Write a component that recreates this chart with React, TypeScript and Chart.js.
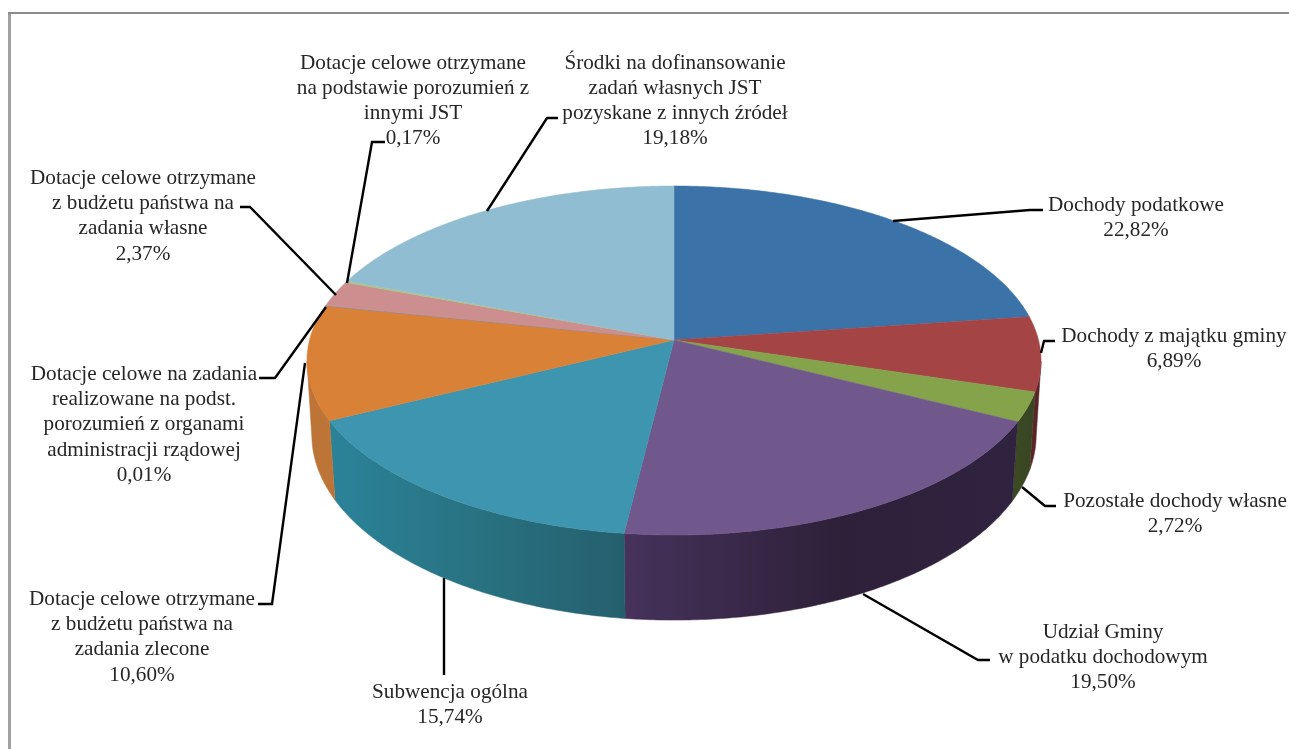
import React, { useEffect, useRef } from "react";
import { Chart, registerables } from "chart.js";

Chart.register(...registerables);

const categories = [
  "Dochody podatkowe",
  "Dochody z majątku gminy",
  "Pozostałe dochody własne",
  "Udział Gminy w podatku dochodowym",
  "Subwencja ogólna",
  "Dotacje celowe otrzymane z budżetu państwa na zadania zlecone",
  "Dotacje celowe na zadania realizowane na podst. porozumień z organami administracji rządowej",
  "Dotacje celowe otrzymane z budżetu państwa na zadania własne",
  "Dotacje celowe otrzymane na podstawie porozumień z innymi JST",
  "Środki na dofinansowanie zadań własnych JST pozyskane z innych źródeł",
];
const shares = [22.82, 6.89, 2.72, 19.5, 15.74, 10.6, 0.01, 2.37, 0.17, 19.18];

const labelLines = [
  ["Dochody podatkowe"],
  ["Dochody z majątku gminy"],
  ["Pozostałe dochody własne"],
  ["Udział Gminy", "w podatku dochodowym"],
  ["Subwencja ogólna"],
  ["Dotacje celowe otrzymane", "z budżetu państwa na", "zadania zlecone"],
  ["Dotacje celowe na zadania", "realizowane na podst.", "porozumień z organami", "administracji rządowej"],
  ["Dotacje celowe otrzymane", "z budżetu państwa na", "zadania własne"],
  ["Dotacje celowe otrzymane", "na podstawie porozumień z", "innymi JST"],
  ["Środki na dofinansowanie", "zadań własnych JST", "pozyskane z innych źródeł"],
];

const topColors = ["#3b72a8", "#a54444", "#85a34b", "#70578c", "#3e95af", "#d98137", "#5f8fb5", "#cc8e8e", "#a8c48c", "#90bdd1"];
const wallColors = [
  ["#2c5580", "#2c5580", "#2c5580"],
  ["#5e2528", "#5c2427", "#5a2326"],
  ["#3c4a24", "#3a4723", "#384523"],
  ["#46325b", "#2e2039", "#2f2340"],
  ["#2b8399", "#28707f", "#255f6e"],
  ["#bd7537", "#bd7537", "#bd7537"],
  ["#555555", "#555555", "#555555"],
  ["#cc8e8e", "#cc8e8e", "#cc8e8e"],
  ["#a8c48c", "#a8c48c", "#a8c48c"],
  ["#6e9bb0", "#6e9bb0", "#6e9bb0"],
];

const labelLayout = [
  { x: 1136, y: 205.5 },
  { x: 1174, y: 336.5 },
  { x: 1175, y: 501.5 },
  { x: 1103, y: 632 },
  { x: 450, y: 692 },
  { x: 142, y: 599.5 },
  { x: 144, y: 374.5 },
  { x: 143, y: 178.5 },
  { x: 413, y: 63 },
  { x: 675, y: 63 },
];
const leaderLayout = [
  [[893, 221], [1030, 210], [1043, 210]],
  [[1041, 353], [1044, 341], [1055, 341]],
  [[1022, 487], [1045, 506], [1056, 506]],
  [[863, 594], [978, 660], [990, 660]],
  [[444, 578], [444, 675]],
  [[305, 363], [272, 604], [258, 604]],
  [[326, 307], [275, 378], [259, 378]],
  [[336, 295], [250, 207], [240, 207]],
  [[347, 283], [372, 142], [385, 142]],
  [[487, 211], [547, 118], [558, 118]],
];

const topPlane = { cx: 674, cy: 340, b: 364.5, a: 172.1, k: 0.1175 };
const bottomPlane = { cx: 674, cy: 414.5, b: 360, a: 183, k: 0.11 };

type Plane = typeof topPlane;

function project(p: Plane, theta: number): [number, number] {
  const u = Math.sin(theta);
  const v = Math.cos(theta);
  const d = 1 + p.k * v;
  return [p.cx + (p.b * u) / d, p.cy - (p.a * v) / d];
}

function rimPoints(p: Plane, from: number, to: number) {
  const n = Math.max(2, Math.ceil(Math.abs(to - from) / 0.01));
  const pts: [number, number][] = [];
  for (let i = 0; i <= n; i++) pts.push(project(p, from + ((to - from) * i) / n));
  return pts;
}

const TWO_PI = Math.PI * 2;
const WALL_FROM = (97 / 180) * Math.PI;
const WALL_TO = (263 / 180) * Math.PI;

const pie3dPlugin = {
  id: "pie3d",
  beforeDatasetDraw(chart: any) {
    const ctx = chart.ctx as CanvasRenderingContext2D;
    const arcs = chart.getDatasetMeta(0).data;
    const range = arcs.map((arc: any) => {
      const offset = Math.PI / 2;
      return [arc.startAngle + offset, arc.endAngle + offset];
    });
    ctx.save();
    range.forEach(([s, e]: number[], i: number) => {
      const from = Math.max(s, WALL_FROM);
      const to = Math.min(e, WALL_TO);
      if (to <= from) return;
      const top = rimPoints(topPlane, from, to);
      const bottom = rimPoints(bottomPlane, from, to).reverse();
      const xs = top.concat(bottom).map((q) => q[0]);
      const grad = ctx.createLinearGradient(Math.min(...xs), 0, Math.max(...xs), 0);
      grad.addColorStop(0, wallColors[i][0]);
      grad.addColorStop(0.55, wallColors[i][1]);
      grad.addColorStop(1, wallColors[i][2]);
      ctx.fillStyle = grad;
      ctx.strokeStyle = grad;
      ctx.lineWidth = 0.5;
      ctx.beginPath();
      top.concat(bottom).forEach((q, j) => (j ? ctx.lineTo(q[0], q[1]) : ctx.moveTo(q[0], q[1])));
      ctx.closePath();
      ctx.fill();
      ctx.stroke();
    });
    range.forEach(([s, e]: number[], i: number) => {
      ctx.fillStyle = topColors[i];
      ctx.strokeStyle = topColors[i];
      ctx.lineWidth = 0.5;
      ctx.beginPath();
      ctx.moveTo(topPlane.cx, topPlane.cy);
      rimPoints(topPlane, s, Math.min(e, s + TWO_PI)).forEach((q) => ctx.lineTo(q[0], q[1]));
      ctx.closePath();
      ctx.fill();
      ctx.stroke();
    });
    ctx.restore();
    return false;
  },
  afterDraw(chart: any) {
    const ctx = chart.ctx as CanvasRenderingContext2D;
    ctx.save();
    ctx.strokeStyle = "#000000";
    ctx.lineWidth = 2.4;
    ctx.lineJoin = "miter";
    leaderLayout.forEach((pts) => {
      ctx.beginPath();
      pts.forEach((q, j) => (j ? ctx.lineTo(q[0], q[1]) : ctx.moveTo(q[0], q[1])));
      ctx.stroke();
    });
    ctx.fillStyle = "#262626";
    ctx.font = '21.2px "Liberation Serif"';
    ctx.textAlign = "center";
    ctx.textBaseline = "middle";
    labelLines.forEach((lines, i) => {
      const pct = shares[i].toFixed(2).replace(".", ",") + "%";
      lines.concat(pct).forEach((t, j) => {
        ctx.fillText(t, labelLayout[i].x, labelLayout[i].y + j * 25.2);
      });
    });
    ctx.restore();
  },
  beforeDraw(chart: any) {
    const ctx = chart.ctx as CanvasRenderingContext2D;
    ctx.save();
    ctx.fillStyle = "#ffffff";
    ctx.fillRect(0, 0, chart.width, chart.height);
    ctx.fillStyle = "#a0a0a0";
    ctx.fillRect(8, 12, 3, chart.height - 12);
    ctx.fillStyle = "#8c8c8c";
    ctx.fillRect(8, 12, chart.width - 8, 2);
    ctx.restore();
  },
};

export default function App() {
  const ref = useRef<HTMLCanvasElement>(null);
  useEffect(() => {
    const chart = new Chart(ref.current as HTMLCanvasElement, {
      type: "pie",
      data: {
        labels: categories,
        datasets: [{ data: shares, backgroundColor: topColors, borderWidth: 0 }],
      },
      options: {
        animation: false,
        responsive: false,
        devicePixelRatio: 1,
        plugins: { legend: { display: false }, tooltip: { enabled: false } },
      },
      plugins: [pie3dPlugin as any],
    });
    return () => chart.destroy();
  }, []);
  return (
    <div style={{ position: "absolute", left: 0, top: 0, width: 1289, height: 749, overflow: "hidden" }}>
      <canvas ref={ref} width={1289} height={749} style={{ display: "block" }} />
    </div>
  );
}
